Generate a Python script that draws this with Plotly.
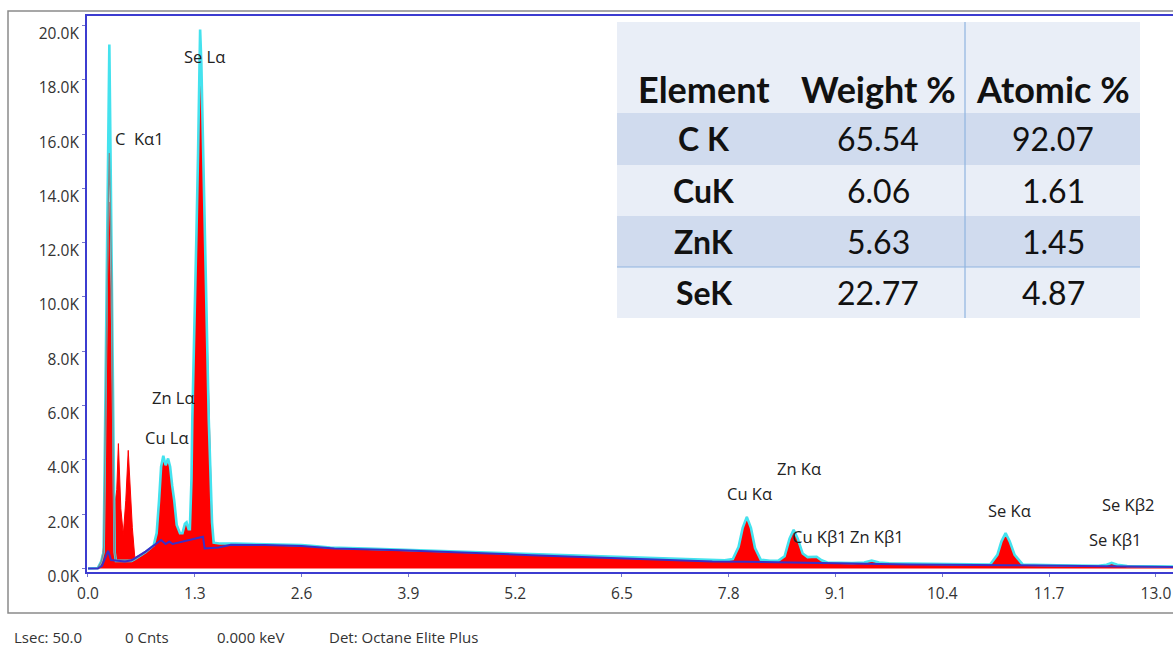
import plotly.graph_objects as go

# ---------------- data ----------------
# measured spectrum (red fill), low-energy part, keV / counts
E_LOW_MEAS = [0.00, 0.12, 0.16, 0.19, 0.205, 0.23, 0.255, 0.27, 0.29, 0.31, 0.33, 0.35, 0.37, 0.385,
              0.40, 0.43, 0.46, 0.49, 0.51, 0.54, 0.57, 0.70, 0.80, 0.836, 0.865, 0.89, 0.917, 0.945,
              0.975, 1.00, 1.025, 1.05, 1.08, 1.12, 1.15, 1.18, 1.20, 1.225, 1.24, 1.26, 1.27, 1.30,
              1.32, 1.34, 1.355, 1.365, 1.38, 1.40, 1.42, 1.445, 1.47, 1.49, 1.51]
C_LOW_MEAS = [0, 0, 200, 800, 3200, 9000, 13500, 11000, 7000, 3500, 2400, 2900, 4600, 3000,
              2200, 1250, 2500, 4350, 3000, 1500, 400, 600, 850, 1300, 2500, 3750, 4100, 3750,
              4000, 3700, 3000, 2500, 1600, 1300, 1300, 1650, 1680, 1450, 1400, 3300, 5500, 9200,
              12300, 15300, 17800, 18300, 17300, 15300, 12000, 9150, 5500, 3300, 1700]

# fitted spectrum (cyan outline), low-energy part
E_LOW_FIT = [0.00, 0.12, 0.16, 0.19, 0.20, 0.23, 0.25, 0.26, 0.27, 0.29, 0.31, 0.325, 0.34, 0.53,
             0.57, 0.70, 0.80, 0.836, 0.865, 0.89, 0.917, 0.945, 0.975, 1.00, 1.025, 1.05, 1.08,
             1.12, 1.15, 1.18, 1.20, 1.225, 1.24, 1.26, 1.27, 1.30, 1.32, 1.34, 1.355, 1.365,
             1.38, 1.40, 1.42, 1.445, 1.47, 1.49, 1.51]
C_LOW_FIT = [0, 20, 250, 600, 3000, 10400, 16500, 19300, 16500, 10400, 3000, 600, 280, 280,
             340, 600, 850, 1300, 2500, 3750, 4150, 3800, 4050, 3750, 3050, 2500, 1600,
             1300, 1300, 1650, 1700, 1450, 1450, 3300, 5500, 9200, 12300, 15300, 18800, 19850,
             18600, 15300, 12000, 9150, 5500, 3300, 1700]

# shared part of both spectra above 1.5 keV
E_HIGH = [1.53, 1.60, 1.80, 2.00, 2.30, 2.60, 2.75, 2.95, 3.40, 3.80, 4.60, 5.40, 6.20, 7.00,
          7.60, 7.75, 7.85, 7.92, 7.97, 8.02, 8.07, 8.12, 8.19, 8.30, 8.40, 8.48, 8.54, 8.59,
          8.64, 8.70, 8.76, 8.82, 8.87, 8.93, 9.00, 9.30, 9.45, 9.54, 9.63, 9.75, 10.00, 10.50,
          10.98, 11.07, 11.12, 11.17, 11.22, 11.28, 11.38, 11.80, 12.30, 12.40, 12.46, 12.53,
          12.65, 13.21]
C_HIGH = [950, 920, 920, 910, 890, 860, 830, 770, 730, 690, 610, 520, 440, 360,
          300, 300, 350, 800, 1500, 1900, 1500, 750, 320, 280, 280, 450, 1100, 1420,
          1100, 550, 420, 420, 430, 300, 220, 200, 220, 290, 220, 190, 180, 160,
          140, 500, 1000, 1300, 1000, 500, 140, 120, 100, 140, 210, 140,
          90, 70]

# grey trace (low energy only)
E_GRAY = [0.12, 0.16, 0.19, 0.20, 0.23, 0.25, 0.26, 0.27, 0.29, 0.31, 0.325, 0.34, 0.53, 0.57,
          0.70, 0.80]
C_GRAY = [20, 250, 600, 3000, 10400, 14000, 15300, 14000, 10400, 3000, 600, 280, 280, 340,
          600, 850]

# background (dark blue)
E_BKG = [0.00, 0.12, 0.17, 0.22, 0.245, 0.28, 0.35, 0.45, 0.53, 0.70, 0.89, 0.945, 0.99, 1.03,
         1.40, 1.42, 1.59, 1.74, 2.15, 2.60, 3.00, 3.80, 5.40, 7.60, 8.00, 9.00, 10.00, 11.20,
         12.50, 13.21]
C_BKG = [0, 0, 100, 430, 650, 310, 280, 260, 300, 620, 1050, 900, 990, 900,
         1170, 740, 770, 870, 860, 830, 740, 670, 490, 260, 250, 200, 150, 120,
         80, 50]

# peak labels
PEAK_LABELS = ["C\u00a0 K\u03b11", "Se L\u03b1", "Zn L\u03b1", "Cu L\u03b1", "Cu K\u03b1", "Zn K\u03b1",
               "Cu K\u03b21", "Zn K\u03b21", "Se K\u03b1", "Se K\u03b22", "Se K\u03b21"]
PEAK_E = [0.304, 1.424, 1.035, 0.962, 8.058, 8.655, 8.90, 9.60, 11.22, 12.66, 12.50]
PEAK_C = [15820, 18840, 6280, 4840, 2780, 3700, 1160, 1160, 2150, 2340, 1050]
PEAK_ANCHOR = ["left", "center", "center", "center", "center", "center", "center", "center",
               "center", "center", "center"]

# axis ticks
X_TICK0, X_DTICK = 0.0, 1.3
Y_TICKS = [0, 2000, 4000, 6000, 8000, 10000, 12000, 14000, 16000, 18000, 20000]

# quantification table
TABLE_HEADERS = ["Element", "Weight %", "Atomic %"]
ELEMENTS = ["C K", "CuK", "ZnK", "SeK"]
WEIGHT_PCT = ["65.54", "6.06", "5.63", "22.77"]
ATOMIC_PCT = ["92.07", "1.61", "1.45", "4.87"]

STATUS = ["Lsec: 50.0", "0 Cnts", "0.000 keV", "Det: Octane Elite Plus"]

# ---------------- layout geometry ----------------
W, H = 1173, 652
ML, MR, MT, MB = 87, 0, 16, 80
PW, PH = W - ML - MR, H - MT - MB


def xp(px):
    return (px - ML) / PW


def yp(py):
    return (H - MB - py) / PH


AXIS_BLUE = "#3c3cd0"
FONT = "Open Sans"

fig = go.Figure()
fig.add_trace(go.Scatter(x=E_LOW_MEAS + E_HIGH, y=C_LOW_MEAS + C_HIGH, mode="lines",
                         fill="tozeroy", fillcolor="#ff0000",
                         line=dict(color="#ff0000", width=1), hoverinfo="skip"))
fig.add_trace(go.Scatter(x=E_LOW_FIT + E_HIGH, y=C_LOW_FIT + C_HIGH, mode="lines",
                         line=dict(color="#44e2ee", width=2.6), hoverinfo="skip"))
fig.add_trace(go.Scatter(x=E_GRAY, y=C_GRAY, mode="lines",
                         line=dict(color="#7f8a8c", width=1.3), hoverinfo="skip"))
fig.add_trace(go.Scatter(x=E_BKG, y=C_BKG, mode="lines",
                         line=dict(color="#3a2fc6", width=2), hoverinfo="skip"))

annotations = []
for lab, e, c, anc in zip(PEAK_LABELS, PEAK_E, PEAK_C, PEAK_ANCHOR):
    annotations.append(dict(x=e, y=c, xref="x", yref="y", text=lab, showarrow=False,
                            xanchor=anc, yanchor="middle",
                            font=dict(family=FONT, size=16.5, color="#222")))

shapes = []
# outer grey frame
shapes.append(dict(type="rect", xref="paper", yref="paper", x0=xp(8), x1=xp(1190),
                   y0=yp(613), y1=yp(11), line=dict(color="#8a8a8a", width=1.5),
                   fillcolor="rgba(0,0,0,0)", layer="below"))

# table
T_LEFT, T_RIGHT, T_DIV = 617, 1140, 965
ROW_EDGES = [22, 113, 165, 216, 267, 318]
ROW_FILLS = ["#e9eef7", "#d0dbee", "#e9eef7", "#d0dbee", "#e9eef7"]
COL_CENTERS = [704, 878, 1053]
for i, fc in enumerate(ROW_FILLS):
    shapes.append(dict(type="rect", xref="paper", yref="paper", x0=xp(T_LEFT), x1=xp(T_RIGHT),
                       y0=yp(ROW_EDGES[i + 1]), y1=yp(ROW_EDGES[i]), line=dict(width=0),
                       fillcolor=fc, layer="above"))
shapes.append(dict(type="line", xref="paper", yref="paper", x0=xp(T_DIV), x1=xp(T_DIV),
                   y0=yp(ROW_EDGES[-1]), y1=yp(ROW_EDGES[0]),
                   line=dict(color="#8fb4e0", width=1.2), layer="above"))
shapes.append(dict(type="line", xref="paper", yref="paper", x0=xp(T_LEFT), x1=xp(T_RIGHT),
                   y0=yp(ROW_EDGES[4]), y1=yp(ROW_EDGES[4]),
                   line=dict(color="#8fb4e0", width=1.2), layer="above"))

for txt, cx in zip(TABLE_HEADERS, COL_CENTERS):
    annotations.append(dict(x=xp(cx), y=yp(89), xref="paper", yref="paper", text="<b>%s</b>" % txt,
                            showarrow=False, xanchor="center", yanchor="middle",
                            font=dict(family="Lato", size=36, color="#111")))
for r, (el, w, a) in enumerate(zip(ELEMENTS, WEIGHT_PCT, ATOMIC_PCT)):
    cy = (ROW_EDGES[r + 1] + ROW_EDGES[r + 2]) / 2
    for txt, cx, bold in ((el, COL_CENTERS[0], True), (w, COL_CENTERS[1], False),
                          (a, COL_CENTERS[2], False)):
        annotations.append(dict(x=xp(cx), y=yp(cy), xref="paper", yref="paper",
                                text=("<b>%s</b>" % txt) if bold else txt,
                                showarrow=False, xanchor="center", yanchor="middle",
                                font=dict(family="Lato", size=32, color="#111")))

# status bar
STATUS_X = [12, 123, 215, 327]
for txt, sx in zip(STATUS, STATUS_X):
    annotations.append(dict(x=xp(sx), y=yp(637), xref="paper", yref="paper", text=txt,
                            showarrow=False, xanchor="left", yanchor="middle",
                            font=dict(family=FONT, size=15, color="#333")))

fig.update_layout(
    width=W, height=H,
    margin=dict(l=ML, r=MR, t=MT, b=MB, pad=0),
    paper_bgcolor="white", plot_bgcolor="white",
    showlegend=False,
    xaxis=dict(range=[-0.012, 13.208], tick0=X_TICK0, dtick=X_DTICK, tickformat=".1f",
               showline=True, linecolor=AXIS_BLUE, linewidth=2, mirror=True,
               ticks="outside", ticklen=3, tickcolor="#7777cc",
               ticklabelstandoff=3,
               showgrid=False, zeroline=False,
               tickfont=dict(family=FONT, size=15.5, color="#333")),
    yaxis=dict(range=[-130, 20350], tickvals=Y_TICKS,
               ticktext=["%.1fK" % (v / 1000) for v in Y_TICKS],
               showline=True, linecolor=AXIS_BLUE, linewidth=2,
               ticks="outside", ticklen=3, tickcolor="#7777cc",
               ticklabelshift=8,
               showgrid=False, zeroline=False,
               tickfont=dict(family=FONT, size=15.5, color="#333")),
    annotations=annotations,
    shapes=shapes,
)

fig.write_html("out.html")
